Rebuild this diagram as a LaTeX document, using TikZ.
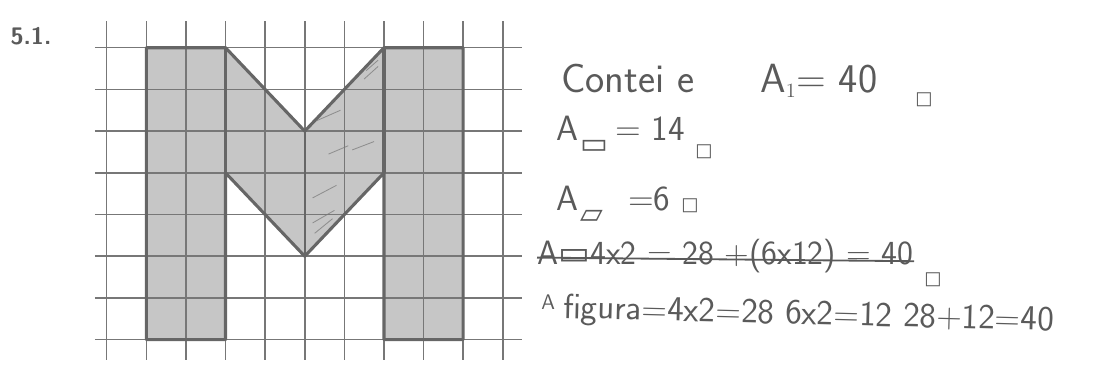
\documentclass[tikz,border=0pt]{standalone}
\usepackage{fontspec}
\usepackage{amsmath,amssymb}
\newfontfamily\shapefont{DejaVu Sans}
\usetikzlibrary{positioning}

\definecolor{inkgray}{HTML}{5A5A5A}
\definecolor{linegray}{HTML}{777777}
\definecolor{rimgray}{HTML}{666666}
\definecolor{fillgray}{HTML}{C6C6C6}

\tikzset{
  gridline/.style={linegray, line width=1.1pt},
  rim/.style={rimgray, line width=2.2pt, line join=round},
  hand/.style={inkgray, font=\sffamily\fontsize{25}{28}\selectfont, inner sep=0pt, anchor=base west},
  unitbox/.style={inkgray, font=\shapefont\fontsize{13}{13}\selectfont, inner sep=0pt, anchor=base west},
  subshape/.style={unitbox, font=\shapefont\fontsize{21}{21}\selectfont}
}

\begin{document}
\begin{tikzpicture}[x=0.025cm,y=-0.025cm]
\useasboundingbox (0,0) rectangle (1116,383);

\node[inkgray, font=\sffamily\bfseries\fontsize{17}{20}\selectfont] (51) at (31,36) {5.1.};

\begin{scope}[shift={(106.7,47.7)}, x=0.99cm, y=-1.0425cm]
% the letter
\fill[fillgray] (1,0) -- (3,0) -- (5,2) -- (7,0) -- (9,0) -- (9,7) -- (7,7) -- (7,3)
                -- (5,5) -- (3,3) -- (3,7) -- (1,7) -- cycle;

\foreach \i in {0,...,10}
  \draw[gridline] (\i,-0.64) -- (\i,7.49);
\foreach \j in {0,...,7}
  \draw[gridline] (-0.3,\j) -- (10.49,\j);

\draw[rim] (1,0) -- (3,0) -- (5,2) -- (7,0) -- (9,0) -- (9,7) -- (7,7) -- (7,3)
           -- (5,5) -- (3,3) -- (3,7) -- (1,7) -- cycle;
\draw[rim] (3,0) -- (3,3);
\draw[rim] (7,0) -- (7,3);
\draw[rimgray, line width=1.6pt] (5,2) -- (5,5);

% pencil marks
\draw[linegray, line width=0.6pt, opacity=0.7] (6.55,0.55) -- (6.85,0.3) (6.5,0.75) -- (6.85,0.45)
      (5.3,1.75) -- (5.9,1.5) (5.6,2.55) -- (6.1,2.35) (6.2,2.45) -- (6.75,2.25)
      (5.2,3.6) -- (5.8,3.3) (5.2,4.2) -- (5.75,3.9) (5.25,4.45) -- (5.7,4.1);
\end{scope}

\node[hand, font=\sffamily\fontsize{29}{32}\selectfont] (c1) at (561,92) {Contei e};
\node[hand, font=\sffamily\fontsize{29}{32}\selectfont] (a1) at (760,92) {A$_{\scriptscriptstyle 1}$= 40};
\node[unitbox] (u1) at (915,104) {□};

\node[hand] (a2) at (556,140) {A};
\node[subshape] (s2) at (580,153) {▭};
\node[hand] (e2) at (615,140) {= 14};
\node[unitbox] (u2) at (695,156) {□};

\node[hand] (a3) at (556,210) {A};
\node[subshape] (s3) at (580,223) {▱};
\node[hand] (e3) at (628,210) {=6};
\node[unitbox] (u3) at (681,210) {□};

\node[hand, font=\sffamily\fontsize{24}{27}\selectfont] (a4) at (537,264) {A{\shapefont ▭}4x2 = 28 +(6x12) = 40};
\node[unitbox] (u4) at (924,284) {□};
\draw[inkgray, line width=1.3pt] (a4.west) ++(0,2) -- ([yshift=-4]a4.east);

\node[hand, font=\sffamily\fontsize{15}{18}\selectfont] (a5) at (541,309) {A};
\node[hand, rotate=-1.5] (f5) at (563,318) {figura=4x2=28 6x2=12 28+12=40};
\end{tikzpicture}
\end{document}
